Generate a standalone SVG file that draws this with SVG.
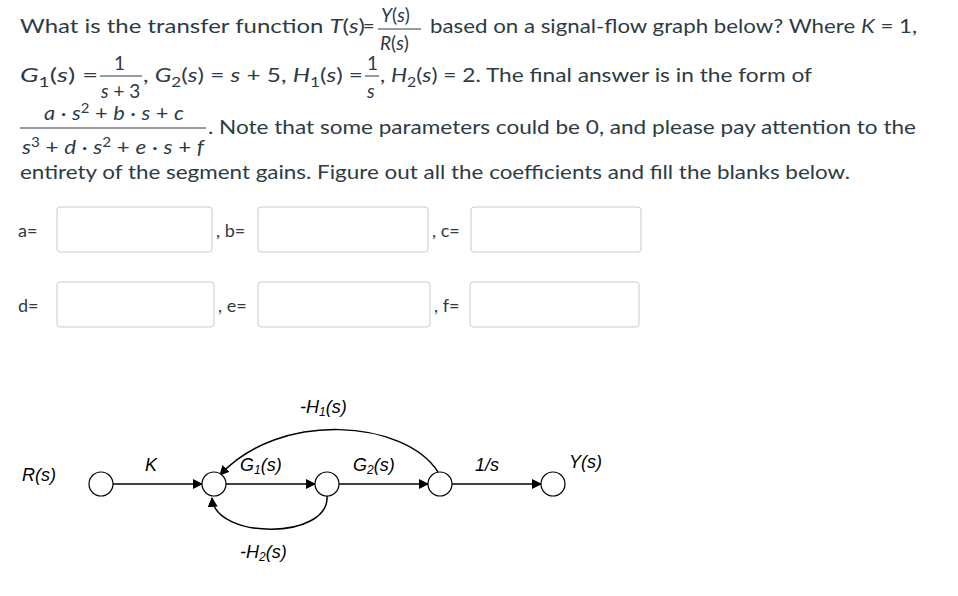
<svg xmlns="http://www.w3.org/2000/svg" width="958" height="596" viewBox="0 0 958 596">
<style>
text{font-family:Lato,"Liberation Sans",sans-serif;fill:#2d3b45;font-size:20px}
.i{font-style:italic}
.sm{font-size:19px}
.sb{font-size:14px}
.lb{font-size:18px}
.box{fill:#fff;stroke:#c7cdd1;stroke-width:1;rx:3}
.g{font-family:"Liberation Sans",Arial,sans-serif;fill:#000;font-style:italic;font-size:18px}
.n{fill:#fff;stroke:#000;stroke-width:1.2}
.e{fill:none;stroke:#000;stroke-width:1.5}
.fl{stroke:#2d3b45;stroke-width:1}
</style>
<defs><marker id="a" markerWidth="10" markerHeight="10" refX="9" refY="5" orient="auto" markerUnits="userSpaceOnUse" viewBox="0 0 10 10"><path d="M0,0L10,5L0,10z" fill="#000"/></marker></defs>
<rect width="958" height="596" fill="#fff"/>
<g id="question">
<text x="20" y="33" textLength="345" lengthAdjust="spacingAndGlyphs">What is the transfer function <tspan class="i">T</tspan>(<tspan class="i">s</tspan>)</text>
<text x="363" y="33">=</text>
<text x="381" y="22" class="sm"><tspan class="i">Y</tspan>(<tspan class="i">s</tspan>)</text>
<line class="fl" x1="378" y1="29" x2="421" y2="29"/>
<text x="380" y="50" class="sm"><tspan class="i">R</tspan>(<tspan class="i">s</tspan>)</text>
<text x="430" y="33" textLength="487" lengthAdjust="spacingAndGlyphs">based on a signal-flow graph below? Where <tspan class="i">K</tspan> = 1,</text>
<text x="20" y="82" class="i" textLength="78" lengthAdjust="spacingAndGlyphs">G<tspan class="sb" dy="5" font-style="normal">1</tspan><tspan dy="-5" font-style="normal">(</tspan>s<tspan font-style="normal">) =</tspan></text>
<text x="114" y="70" class="sm">1</text>
<line class="fl" x1="100" y1="76" x2="142" y2="76"/>
<text x="101" y="98" class="sm i">s<tspan font-style="normal"> + 3</tspan></text>
<text x="143" y="82" textLength="220" lengthAdjust="spacingAndGlyphs">, <tspan class="i">G</tspan><tspan class="sb" dy="5">2</tspan><tspan dy="-5">(</tspan><tspan class="i">s</tspan>) = <tspan class="i">s</tspan> + 5, <tspan class="i">H</tspan><tspan class="sb" dy="5">1</tspan><tspan dy="-5">(</tspan><tspan class="i">s</tspan>) =</text>
<text x="367" y="70" class="sm">1</text>
<line class="fl" x1="365" y1="76" x2="379" y2="76"/>
<text x="367" y="98" class="sm i">s</text>
<text x="380" y="82" textLength="432" lengthAdjust="spacingAndGlyphs">, <tspan class="i">H</tspan><tspan class="sb" dy="5">2</tspan><tspan dy="-5">(</tspan><tspan class="i">s</tspan>) = 2. The final answer is in the form of</text>
<text x="44" y="120" class="sm" textLength="140" lengthAdjust="spacingAndGlyphs"><tspan class="i">a</tspan> · <tspan class="i">s</tspan><tspan font-size="13" dy="-7">2</tspan><tspan dy="7"> + </tspan><tspan class="i">b</tspan> · <tspan class="i">s</tspan> + <tspan class="i">c</tspan></text>
<line class="fl" x1="20" y1="128" x2="206" y2="128"/>
<text x="22" y="154" class="sm" textLength="182" lengthAdjust="spacingAndGlyphs"><tspan class="i">s</tspan><tspan font-size="13" dy="-7">3</tspan><tspan dy="7"> + </tspan><tspan class="i">d</tspan> · <tspan class="i">s</tspan><tspan font-size="13" dy="-7">2</tspan><tspan dy="7"> + </tspan><tspan class="i">e</tspan> · <tspan class="i">s</tspan> + <tspan class="i">f</tspan></text>
<text x="208" y="134" textLength="708" lengthAdjust="spacingAndGlyphs">. Note that some parameters could be 0, and please pay attention to the</text>
<text x="20" y="179" textLength="830" lengthAdjust="spacingAndGlyphs">entirety of the segment gains. Figure out all the coefficients and fill the blanks below.</text>
</g>
<g id="blanks">
<text x="18" y="237" class="lb">a=</text>
<rect class="box" x="57" y="207" width="155" height="45"/>
<text x="216" y="237" class="lb">, b=</text>
<rect class="box" x="258" y="207" width="170" height="45"/>
<text x="432" y="237" class="lb">, c=</text>
<rect class="box" x="471" y="207" width="170" height="45"/>
<text x="18" y="312" class="lb">d=</text>
<rect class="box" x="57" y="282" width="157" height="45"/>
<text x="218" y="312" class="lb">, e=</text>
<rect class="box" x="258" y="282" width="172" height="45"/>
<text x="434" y="312" class="lb">, f=</text>
<rect class="box" x="470" y="282" width="169" height="45"/>
</g>
<g id="connectors">
<line class="e" x1="113" y1="484" x2="202" y2="484" marker-end="url(#a)"/>
<line class="e" x1="226" y1="484" x2="315" y2="484" marker-end="url(#a)"/>
<line class="e" x1="339" y1="484" x2="428" y2="484" marker-end="url(#a)"/>
<line class="e" x1="452" y1="484" x2="541" y2="484" marker-end="url(#a)"/>
<path class="e" d="M438,472 C405,420 280,410 220,475" marker-end="url(#a)"/>
<path class="e" d="M327,496 C330,540 215,540 212,498" marker-end="url(#a)"/>
</g>
<g id="nodes">
<g id="n1"><circle class="n" cx="101" cy="484" r="12"/><text class="g" x="22" y="481">R(s)</text></g>
<g id="n2"><circle class="n" cx="214" cy="484" r="12"/></g>
<g id="n3"><circle class="n" cx="327" cy="484" r="12"/></g>
<g id="n4"><circle class="n" cx="440" cy="484" r="12"/></g>
<g id="n5"><circle class="n" cx="553" cy="484" r="12"/><text class="g" x="569" y="468">Y(s)</text></g>
</g>
<g id="labels">
<text class="g" x="145" y="471" font-size="15">K</text>
<text class="g" x="240" y="471">G<tspan font-size="12" dy="3">1</tspan><tspan dy="-3">(s)</tspan></text>
<text class="g" x="353" y="471">G<tspan font-size="12" dy="3">2</tspan><tspan dy="-3">(s)</tspan></text>
<text class="g" x="475" y="471">1/s</text>
<text class="g" x="300" y="413">-H<tspan font-size="12" dy="3">1</tspan><tspan dy="-3">(s)</tspan></text>
<text class="g" x="240" y="558">-H<tspan font-size="12" dy="3">2</tspan><tspan dy="-3">(s)</tspan></text>
</g>
</svg>
